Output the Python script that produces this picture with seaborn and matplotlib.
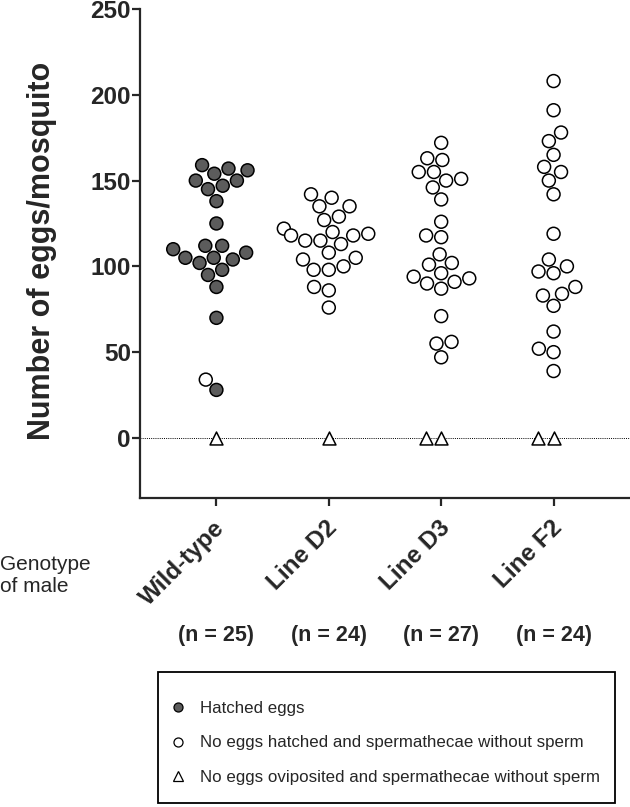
import pandas as pd
import matplotlib.pyplot as plt
import matplotlib.transforms as mtransforms
from matplotlib.lines import Line2D
from matplotlib.patches import Rectangle
import seaborn as sns

genotypes = ["Wild-type", "Line D2", "Line D3", "Line F2"]
n_labels = ["(n = 25)", "(n = 24)", "(n = 27)", "(n = 24)"]

# eggs per mosquito
hatched = {
    "Wild-type": [157, 156, 159, 154, 150, 150, 147, 145, 138, 125, 112, 112,
                  110, 108, 105, 104, 105, 102, 98, 95, 88, 70, 28],
}
not_hatched = {
    "Wild-type": [34],
    "Line D2": [142, 140, 135, 135, 127, 129, 120, 122, 118, 118, 119, 115,
                113, 115, 108, 104, 105, 98, 98, 100, 86, 88, 76],
    "Line D3": [172, 163, 162, 155, 155, 150, 151, 146, 139, 126, 118, 117,
                107, 101, 102, 94, 96, 93, 91, 90, 87, 71, 55, 56, 47],
    "Line F2": [208, 191, 178, 173, 165, 158, 155, 150, 142, 119, 104, 96,
                97, 100, 88, 84, 83, 77, 62, 50, 52, 39],
}
not_oviposited = {
    "Wild-type": [0],
    "Line D2": [0],
    "Line D3": [0, 0],
    "Line F2": [0, 0],
}

status_labels = ["Hatched eggs",
                 "No eggs hatched and spermathecae without sperm",
                 "No eggs oviposited and spermathecae without sperm"]

rows = []
for g, vals in hatched.items():
    rows += [(g, v, "hatched") for v in vals]
for g, vals in not_hatched.items():
    rows += [(g, v, "not_hatched") for v in vals]
circles = pd.DataFrame(rows, columns=["genotype", "eggs", "status"])

tri_rows = []
for g, vals in not_oviposited.items():
    tri_rows += [(g, v) for v in vals]
triangles = pd.DataFrame(tri_rows, columns=["genotype", "eggs"])

sns.set_style("ticks")
plt.rcParams["font.family"] = ["Liberation Sans", "DejaVu Sans"]

fig = plt.figure(figsize=(6.3, 8.07), dpi=100)
ax = fig.add_axes([140 / 630, 1 - 498 / 807, 1 - 140 / 630, (498 - 9) / 807])

gray = "#5c5c5c"
sns.swarmplot(data=circles, x="genotype", y="eggs", hue="status", order=genotypes,
              hue_order=["hatched", "not_hatched"],
              palette={"hatched": gray, "not_hatched": "white"},
              size=9.3, edgecolor="black", linewidth=1.1, legend=False, ax=ax)
sns.swarmplot(data=triangles, x="genotype", y="eggs", order=genotypes,
              marker="^", color="white", edgecolor="black", linewidth=1.1,
              size=9.3, ax=ax)

ax.axhline(0, color="black", lw=0.7, ls=(0, (1, 1.2)), zorder=0)

ax.set_xlim(-0.68, 3.68)
ax.set_ylim(-35, 250)
ax.set_yticks([0, 50, 100, 150, 200, 250])
ax.set_xlabel("")
ax.set_ylabel("Number of eggs/mosquito", fontsize=22, fontweight="bold")
ax.yaxis.set_label_coords(-0.17, 0.506)
sns.despine(ax=ax)
for sp in ["left", "bottom"]:
    ax.spines[sp].set_linewidth(1.6)
ax.tick_params(axis="both", direction="out", length=6, width=1.6)
ax.tick_params(axis="y", labelsize=17.5, pad=0.5)
ax.tick_params(axis="x", labelsize=17.5, pad=13)
for lab in ax.get_yticklabels():
    lab.set_fontweight("bold")

offset = mtransforms.ScaledTranslation(5 / 100, 0, fig.dpi_scale_trans)
ax.set_xticks(range(len(genotypes)))
ax.set_xticklabels(genotypes, rotation=45, ha="right", va="center",
                   rotation_mode="anchor", fontweight="bold")
for lab in ax.get_xticklabels():
    lab.set_transform(lab.get_transform() + offset)

fig.text(0.0, 1 - 575 / 807, "Genotype\nof male", ha="left", va="center",
         fontsize=15, linespacing=1.2)

ntrans = mtransforms.blended_transform_factory(ax.transData, fig.transFigure)
for i, t in enumerate(n_labels):
    ax.text(i, 1 - 635 / 807, t, transform=ntrans, ha="center", va="center",
            fontsize=15.5, fontweight="bold")

# legend box
fig.patches.append(Rectangle((158 / 630, 1 - 803 / 807), (615 - 158) / 630,
                             (803 - 672) / 807, transform=fig.transFigure,
                             fill=False, edgecolor="black", lw=1.3))
handles = [
    Line2D([], [], ls="", marker="o", markersize=6.5, markerfacecolor=gray,
           markeredgecolor="black", markeredgewidth=0.9),
    Line2D([], [], ls="", marker="o", markersize=6.5, markerfacecolor="white",
           markeredgecolor="black", markeredgewidth=0.9),
    Line2D([], [], ls="", marker="^", markersize=6.5, markerfacecolor="white",
           markeredgecolor="black", markeredgewidth=0.9),
]
fig.legend(handles, status_labels, loc="center left",
           bbox_to_anchor=(171 / 630, 1 - 743 / 807), fontsize=12.2,
           frameon=False, borderpad=0, borderaxespad=0, labelspacing=1.15,
           handlelength=0.8, handletextpad=0.9)

fig.savefig("out.png", dpi=100)
